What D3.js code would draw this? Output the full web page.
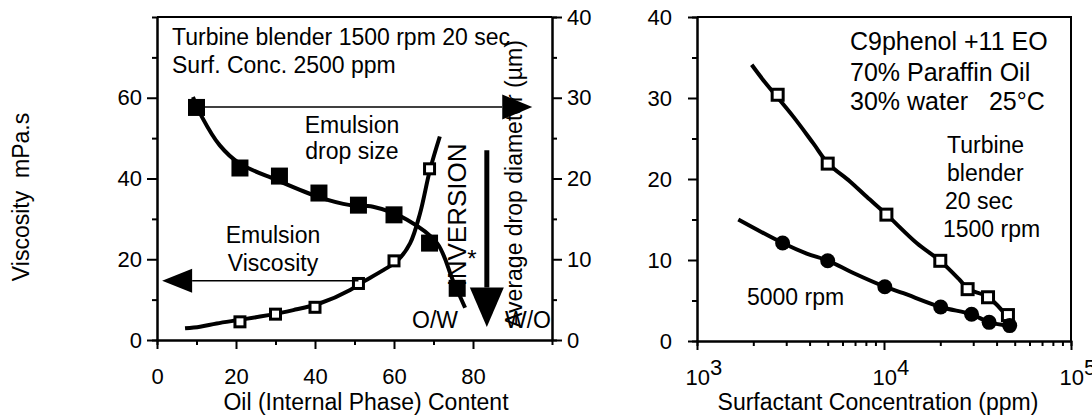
<!DOCTYPE html>
<html>
<head>
<meta charset="utf-8">
<script src="https://cdn.jsdelivr.net/npm/d3@7"></script>
<style>
body { margin: 0; background: #fff; }
svg text { font-family: Arial, "Liberation Sans", Helvetica, sans-serif; fill: #000; }
</style>
</head>
<body>
<svg id="chart" width="1092" height="415"></svg>
<script>
// ---- dati ----

// pannello sinistro: diametro medio delle gocce (quadrati pieni, asse destro)
const oilDrop = [10, 21, 31, 41, 51, 60, 69, 76]
const dropSize = [28.8, 21.3, 20.3, 18.2, 16.7, 15.5, 12.0, 6.4]
// curva tracciata a mano sulle gocce
const dropFitOil = [9.1, 11.3, 15.9, 20.8, 30.3, 41.0, 48.9, 54.7, 63.3, 70.9, 74.9, 78.0]
const dropFitVal = [30.1, 27.7, 24.1, 21.9, 19.8, 17.7, 16.7, 16.5, 14.9, 12.0, 7.4, 4.0]

// pannello sinistro: viscosita (quadrati vuoti, asse sinistro)
const oilVisc = [21, 30, 40, 51, 60, 69]
const viscosity = [4.5, 6.4, 8.1, 14.0, 19.6, 42.4]
const viscFitOil = [7.1, 10.9, 15.1, 21, 26.1, 34.5, 41.3, 48.9, 51.4, 57.3, 61, 64.1, 66.6, 69.1, 71.6]
const viscFitVal = [2.9, 3.3, 4.1, 5.0, 5.8, 7.4, 9.1, 12.4, 14.0, 17.3, 19.8, 24.0, 31.4, 42.1, 50.4]

// tick del pannello sinistro
const oilTicks = [0, 20, 40, 60, 80]
const oilMinor = [10, 30, 50, 70]
const viscTicks = [0, 20, 40, 60]
const viscMinor = [10, 30, 50, 70]
const dropTicks = [0, 10, 20, 30, 40]
const dropMinor = [5, 15, 25, 35]

// pannello destro: 1500 rpm (quadrati vuoti) e 5000 rpm (cerchi pieni)
const concSq = [2700, 5000, 10300, 20000, 28000, 36000, 46000]
const viscSq = [30.4, 21.9, 15.6, 9.9, 6.4, 5.4, 3.2]
const sqFitConc = [1961, 2262, 3273, 4188, 5036, 6579, 8082, 10337, 14950, 19930, 25490, 28240, 36130, 47200]
const sqFitVal = [34.1, 32.2, 27.7, 24.4, 21.9, 19.7, 17.8, 15.6, 12.1, 9.9, 7.5, 6.4, 5.4, 2.6]

const concDot = [2870, 5000, 10100, 20100, 29400, 36500, 47000]
const viscDot = [12.1, 9.9, 6.7, 4.2, 3.3, 2.3, 1.9]
const dotFitConc = [1663, 2872, 3861, 5036, 6855, 10124, 12690, 20100, 29440, 36560, 47200]
const dotFitVal = [15.0, 12.1, 10.8, 9.9, 8.4, 6.7, 5.9, 4.2, 3.3, 2.3, 1.9]

// tick del pannello destro
const concTicks = [1e3, 1e4, 1e5]
const concMinor = [2e3, 3e3, 4e3, 5e3, 6e3, 7e3, 8e3, 9e3, 2e4, 3e4, 4e4, 5e4, 6e4, 7e4, 8e4, 9e4]
const rViscTicks = [0, 10, 20, 30, 40]
const rViscMinor = [5, 15, 25, 35]

// ---- svg ----
const svg = d3.select('#chart')
const lineW = 2

// scale pannello sinistro
const xOil = d3.scaleLinear().domain([0, 100]).range([157, 552])
const yVisc = d3.scaleLinear().domain([0, 80]).range([340, 17])
const yDrop = d3.scaleLinear().domain([0, 40]).range([340, 17])

// scale pannello destro
const xConc = d3.scaleLog().domain([1e3, 1e5]).range([697, 1071])
const yR = d3.scaleLinear().domain([0, 40]).range([341, 17])

// funzione per sistemare lo stile degli assi
function styleAxis(g, size) {
	g.attr('font-family', null).attr('font-size', null)
	g.selectAll('path.domain').style('stroke-width', lineW)
	g.selectAll('.tick line').style('stroke-width', lineW)
	g.selectAll('.tick text').style('font-size', size + 'px')
}

// assi pannello sinistro
svg.append('g').attr('transform', 'translate(0,340)')
	.call(d3.axisBottom(xOil).tickValues(oilTicks).tickSize(9).tickSizeOuter(0).tickPadding(19))
	.call(g => styleAxis(g, 22))
svg.append('g').attr('transform', 'translate(0,340)')
	.call(d3.axisBottom(xOil).tickValues(oilMinor).tickSize(5).tickFormat(''))
	.call(g => styleAxis(g, 22))

svg.append('g').attr('transform', 'translate(157,0)')
	.call(d3.axisLeft(yVisc).tickValues(viscTicks).tickSize(10).tickSizeOuter(0).tickPadding(5))
	.call(g => styleAxis(g, 22))
svg.append('g').attr('transform', 'translate(157,0)')
	.call(d3.axisLeft(yVisc).tickValues(viscMinor).tickSize(5).tickFormat(''))
	.call(g => styleAxis(g, 22))

svg.append('g').attr('transform', 'translate(552,0)')
	.call(d3.axisRight(yDrop).tickValues(dropTicks).tickSize(10).tickSizeOuter(0).tickPadding(5))
	.call(g => styleAxis(g, 22))
svg.append('g').attr('transform', 'translate(552,0)')
	.call(d3.axisRight(yDrop).tickValues(dropMinor).tickSize(5).tickFormat(''))
	.call(g => styleAxis(g, 22))

// bordo superiore pannello sinistro
svg.append('line')
	.attr('x1', xOil(0)).attr('x2', xOil(100))
	.attr('y1', yVisc(80)).attr('y2', yVisc(80))
	.style('stroke', 'black').style('stroke-width', lineW)

// assi pannello destro
const xAxisR = svg.append('g').attr('transform', 'translate(0,341)')
	.call(d3.axisBottom(xConc).tickValues(concTicks).tickSize(9).tickSizeOuter(0).tickPadding(19))
	.call(g => styleAxis(g, 22))
// etichette 10^n con esponente
xAxisR.selectAll('.tick text')
	.attr('text-anchor', 'start')
	.attr('x', -12)
	.text('10')
	.append('tspan')
	.attr('dy', -10)
	.text(d => Math.round(Math.log10(d)))
svg.append('g').attr('transform', 'translate(0,341)')
	.call(d3.axisBottom(xConc).tickValues(concMinor).tickSize(5).tickFormat(''))
	.call(g => styleAxis(g, 22))

svg.append('g').attr('transform', 'translate(697,0)')
	.call(d3.axisLeft(yR).tickValues(rViscTicks).tickSize(9).tickSizeOuter(0).tickPadding(16))
	.call(g => styleAxis(g, 22))
svg.append('g').attr('transform', 'translate(697,0)')
	.call(d3.axisLeft(yR).tickValues(rViscMinor).tickSize(5).tickFormat(''))
	.call(g => styleAxis(g, 22))

// cornice pannello destro
svg.append('path')
	.attr('d', `M${xConc(1e3)},${yR(40)}H${xConc(1e5)}V${yR(0)}`)
	.style('fill', 'none').style('stroke', 'black').style('stroke-width', lineW)

// ---- curve ----
const curveLine = (xs, ys, sx, sy) => d3.line()
	.x((d, i) => sx(xs[i]))
	.y((d, i) => sy(ys[i]))
	.curve(d3.curveCatmullRom)(xs)

function drawCurve(xs, ys, sx, sy) {
	svg.append('path')
		.attr('d', curveLine(xs, ys, sx, sy))
		.style('fill', 'none')
		.style('stroke', 'black')
		.style('stroke-width', 4)
		.style('stroke-linejoin', 'round')
}

drawCurve(dropFitOil, dropFitVal, xOil, yDrop)
drawCurve(viscFitOil, viscFitVal, xOil, yVisc)
drawCurve(sqFitConc, sqFitVal, xConc, yR)
drawCurve(dotFitConc, dotFitVal, xConc, yR)

// ---- marker ----
// quadrati pieni (dimensione gocce)
svg.append('g').selectAll('rect')
	.data(oilDrop)
	.join('rect')
	.attr('x', (d, i) => xOil(d) - 8.5)
	.attr('y', (d, i) => yDrop(dropSize[i]) - 8.5)
	.attr('width', 17).attr('height', 17)
	.style('fill', 'black')

// quadrati vuoti (viscosita)
svg.append('g').selectAll('rect')
	.data(oilVisc)
	.join('rect')
	.attr('x', (d, i) => xOil(d) - 5)
	.attr('y', (d, i) => yVisc(viscosity[i]) - 5)
	.attr('width', 10).attr('height', 10)
	.style('fill', 'white').style('stroke', 'black').style('stroke-width', 3)

// pannello destro
svg.append('g').selectAll('rect')
	.data(concSq)
	.join('rect')
	.attr('x', (d, i) => xConc(d) - 5.5)
	.attr('y', (d, i) => yR(viscSq[i]) - 5.5)
	.attr('width', 11).attr('height', 11)
	.style('fill', 'white').style('stroke', 'black').style('stroke-width', 3)

svg.append('g').selectAll('circle')
	.data(concDot)
	.join('circle')
	.attr('cx', d => xConc(d))
	.attr('cy', (d, i) => yR(viscDot[i]))
	.attr('r', 7.5)
	.style('fill', 'black')

// ---- frecce ----
function arrowH(x1, x2, y, head, half) {
	const dir = Math.sign(x2 - x1)
	svg.append('line')
		.attr('x1', x1).attr('x2', x2 - dir * head).attr('y1', y).attr('y2', y)
		.style('stroke', 'black').style('stroke-width', 1.5)
	svg.append('path')
		.attr('d', `M${x2},${y}L${x2 - dir * head},${y - half}L${x2 - dir * head},${y + half}Z`)
		.style('fill', 'black')
}
// verso l'asse destro (gocce) e verso l'asse sinistro (viscosita)
arrowH(xOil(10), xOil(95), yDrop(28.85), 30, 12.5)
arrowH(xOil(51), xOil(1.3), yVisc(14.7), 30, 12)

// freccia verticale spessa dell'inversione
const invX = xOil(83.5)
svg.append('line')
	.attr('x1', invX).attr('x2', invX)
	.attr('y1', yDrop(23.5)).attr('y2', yDrop(6.5))
	.style('stroke', 'black').style('stroke-width', 5)
svg.append('path')
	.attr('d', `M${invX},${yDrop(1.6)}L${invX - 17},${yDrop(6.5)}L${invX + 17},${yDrop(6.5)}Z`)
	.style('fill', 'black')

// ---- testi ----
function label(x, y, txt, size, anchor) {
	return svg.append('text')
		.attr('x', x).attr('y', y)
		.style('font-size', size + 'px')
		.style('text-anchor', anchor || 'start')
		.style('white-space', 'pre')
		.text(txt)
}

label(172, 45, 'Turbine blender 1500 rpm 20 sec', 23)
label(172, 73, 'Surf. Conc. 2500 ppm', 23)
label(352, 133, 'Emulsion', 23, 'middle')
label(352, 159, 'drop size', 23, 'middle')
label(273, 243, 'Emulsion', 23, 'middle')
label(273, 271, 'Viscosity', 23, 'middle')
label(412, 328, 'O/W', 23)
label(505, 328, 'W/O', 23)
label(472, 267, '*', 24, 'middle')

// testi ruotati
svg.append('text')
	.attr('transform', 'translate(466,215) rotate(-90)')
	.style('font-size', '26px').style('text-anchor', 'middle')
	.text('INVERSION')
svg.append('text')
	.attr('transform', 'translate(522,184) rotate(-90)')
	.style('font-size', '23px').style('text-anchor', 'middle')
	.text('Average drop diameter (\u00b5m)')
svg.append('text')
	.attr('transform', 'translate(29,197) rotate(-90)')
	.style('font-size', '23px').style('text-anchor', 'middle').style('white-space', 'pre')
	.text('Viscosity  mPa.s')

// titoli assi x
label(366, 410, 'Oil (Internal Phase) Content', 23, 'middle')
label(878, 410, 'Surfactant Concentration (ppm)', 23, 'middle')

// testi pannello destro
label(850, 50, 'C9phenol +11 EO', 25)
label(850, 81, '70% Paraffin Oil', 25)
label(850, 110, '30% water   25\u00b0C', 25)
label(947, 153, 'Turbine', 23)
label(947, 181, 'blender', 23)
label(945, 209, '20 sec', 23)
label(943, 237, '1500 rpm', 23)
label(747, 305, '5000 rpm', 23)
</script>
</body>
</html>
